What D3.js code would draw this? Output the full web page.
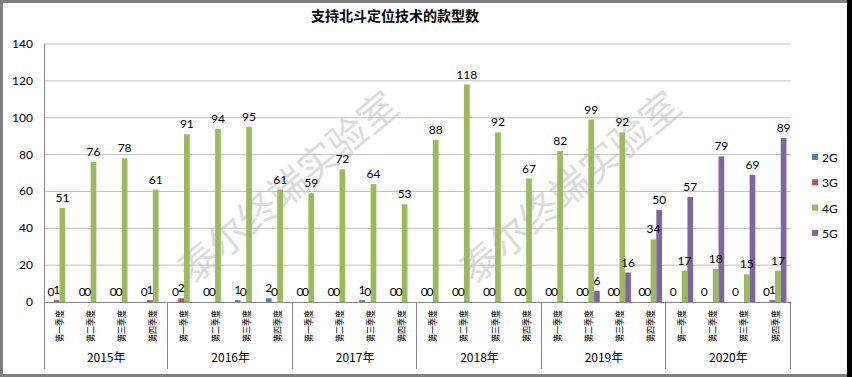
<!DOCTYPE html>
<html>
<head>
<meta charset="utf-8">
<script src="https://cdn.jsdelivr.net/npm/d3@7"></script>
<style>
  body { margin: 0; background: #fff; }
  svg { display: block; }
  text { font-family: Lato, "Noto Sans CJK SC", sans-serif; }
  .cjk { font-family: "Noto Sans CJK SC", sans-serif; }
</style>
</head>
<body>
<svg id="chart"></svg>
<script>
// chart data
const years = ['2015年', '2016年', '2017年', '2018年', '2019年', '2020年'];
const quarters = ['第一季度', '第二季度', '第三季度', '第四季度'];
const series = ['2G', '3G', '4G', '5G'];
const colors = ['#4f81bd', '#c0504d', '#9bbb59', '#8064a2'];
const y_ticks = [0, 20, 40, 60, 80, 100, 120, 140];

// null = no point in the source sheet, so no label either
const v2G = [0, 0, 0, 0, 0, 0, 1, 2, 0, 0, 1, 0, 0, 0, 0, 0, 0, 0, 0, 0, 0, 0, 0, 0];
const v3G = [1, 0, 0, 1, 2, 0, 0, 0, 0, 0, 0, 0, 0, 0, 0, 0, 0, 0, 0, 0, null, null, null, 1];
const v4G = [51, 76, 78, 61, 91, 94, 95, 61, 59, 72, 64, 53, 88, 118, 92, 67, 82, 99, 92, 34, 17, 18, 15, 17];
const v5G = [null, null, null, null, null, null, null, null, null, null, null, null,
  null, null, null, null, null, 6, 16, 50, 57, 79, 69, 89];

const width = 852;
const height = 377;
const plot = { left: 44, right: 790.6, top: 44, bottom: 302, axisBottom: 369 };

const svg = d3.select('#chart')
  .attr('width', width)
  .attr('height', height);

// outer frame (gray with the dark right edge like the screenshot)
svg.append('rect')
  .attr('x', 1.5).attr('y', 1.5)
  .attr('width', width - 3).attr('height', height - 3)
  .attr('fill', '#fff')
  .attr('stroke', '#7f7f7f')
  .attr('stroke-width', 3);
svg.append('rect')
  .attr('x', 847).attr('y', 0)
  .attr('width', 5).attr('height', height)
  .attr('fill', '#000');

svg.append('text')
  .attr('class', 'cjk')
  .attr('x', 395).attr('y', 21)
  .attr('text-anchor', 'middle')
  .attr('font-size', 14)
  .attr('font-weight', 'bold')
  .attr('fill', '#000')
  .text('支持北斗定位技术的款型数');

const slots = d3.range(years.length * quarters.length);
const x0 = d3.scaleBand().domain(slots).range([plot.left, plot.right]);
const x1 = d3.scaleBand().domain(series).range([0, x0.bandwidth()]).paddingOuter(0.73);
const y = d3.scaleLinear().domain([0, 140]).range([plot.bottom, plot.top]);

// watermark, twice (drawn first, it sits faintly behind the bars)
svg.append('g')
  .selectAll('text')
  .data([[290, 190], [572, 190]])
  .join('text')
    .attr('class', 'cjk')
    .attr('transform', (d) => `translate(${d[0]}, ${d[1]}) rotate(-40)`)
    .attr('text-anchor', 'middle')
    .attr('dominant-baseline', 'middle')
    .attr('font-size', 39)
    .attr('fill', '#a8a8a8')
    .attr('opacity', 0.4)
    .text('泰尔终端实验室');

// gridlines
svg.append('g')
  .selectAll('line')
  .data(y_ticks.slice(1))
  .join('line')
    .attr('x1', plot.left).attr('x2', plot.right)
    .attr('y1', (d) => y(d)).attr('y2', (d) => y(d))
    .attr('stroke', '#bfbfbf')
    .attr('stroke-width', 1);

// y axis labels
svg.append('g')
  .selectAll('text')
  .data(y_ticks)
  .join('text')
    .attr('x', 33)
    .attr('y', (d) => y(d) + 4)
    .attr('text-anchor', 'end')
    .attr('font-size', 12)
    .attr('fill', '#000')
    .text((d) => d);

// bars, one group per series
const all_values = [v2G, v3G, v4G, v5G];
const points = [];
all_values.forEach((vals, si) => {
  vals.forEach((v, i) => {
    if (v !== null) points.push({ s: series[si], c: colors[si], i, v });
  });
});

svg.append('g')
  .selectAll('rect')
  .data(points)
  .join('rect')
    .attr('x', (d) => x0(d.i) + x1(d.s))
    .attr('y', (d) => y(d.v))
    .attr('width', x1.bandwidth())
    .attr('height', (d) => y(0) - y(d.v))
    .attr('fill', (d) => d.c);

svg.append('g')
  .selectAll('text')
  .data(points)
  .join('text')
    .attr('x', (d) => x0(d.i) + x1(d.s) + x1.bandwidth() / 2)
    .attr('y', (d) => y(d.v) - 6)
    .attr('text-anchor', 'middle')
    .attr('font-size', 12)
    .attr('fill', '#000')
    .text((d) => d.v);

// axes lines
const axis_color = '#868686';
svg.append('line')
  .attr('x1', plot.left + 0.5).attr('x2', plot.left + 0.5)
  .attr('y1', plot.top).attr('y2', plot.axisBottom)
  .attr('stroke', axis_color);
svg.append('line')
  .attr('x1', plot.left).attr('x2', plot.right)
  .attr('y1', plot.bottom + 0.5).attr('y2', plot.bottom + 0.5)
  .attr('stroke', axis_color);

// year separators
svg.append('g')
  .selectAll('line')
  .data(d3.range(1, years.length + 1))
  .join('line')
    .attr('x1', (d) => Math.round(x0(d * 4 - 1) + x0.bandwidth()) - 0.5)
    .attr('x2', (d) => Math.round(x0(d * 4 - 1) + x0.bandwidth()) - 0.5)
    .attr('y1', plot.bottom)
    .attr('y2', plot.axisBottom)
    .attr('stroke', axis_color);

// quarter labels, rotated to read bottom to top, squeezed like excel does
svg.append('g')
  .selectAll('text')
  .data(slots)
  .join('text')
    .attr('class', 'cjk')
    .attr('transform', (d) => `translate(${x0(d) + x0.bandwidth() / 2 + 3.5}, ${plot.bottom + 8}) rotate(-90)`)
    .attr('text-anchor', 'end')
    .attr('font-size', 9.5)
    .attr('textLength', 32)
    .attr('lengthAdjust', 'spacingAndGlyphs')
    .attr('fill', '#000')
    .text((d) => quarters[d % 4]);

// year labels
svg.append('g')
  .selectAll('text')
  .data(years)
  .join('text')
    .attr('class', 'cjk')
    .attr('x', (d, i) => x0(i * 4) + x0.bandwidth() * 2)
    .attr('y', 362)
    .attr('text-anchor', 'middle')
    .attr('font-size', 12)
    .attr('fill', '#000')
    .text((d) => d);

// legend
const legend = svg.append('g')
  .selectAll('g')
  .data(series)
  .join('g')
    .attr('transform', (d, i) => `translate(812, ${158 + i * 25.3})`);
legend.append('rect')
  .attr('x', 0).attr('y', -4)
  .attr('width', 6).attr('height', 6)
  .attr('fill', (d, i) => colors[i]);
legend.append('text')
  .attr('x', 10).attr('y', 4)
  .attr('font-size', 12)
  .attr('fill', '#000')
  .text((d) => d);
</script>
</body>
</html>
